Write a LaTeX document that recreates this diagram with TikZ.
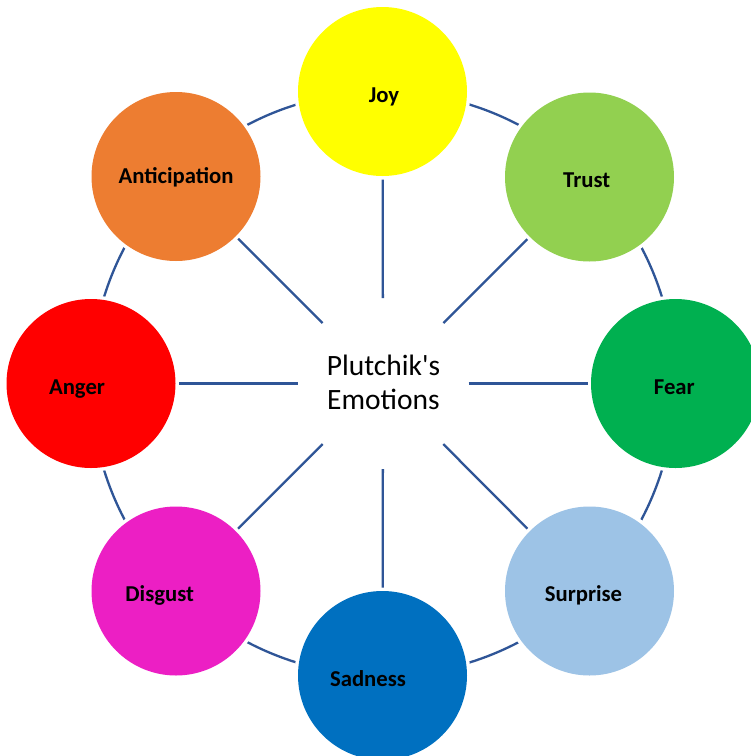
\documentclass[tikz,border=0pt]{standalone}
\usepackage{fontspec}
\setmainfont{Carlito}
\definecolor{ringc}{HTML}{2F5597}
\definecolor{joyc}{HTML}{FFFF00}
\definecolor{trustc}{HTML}{92D050}
\definecolor{fearc}{HTML}{00B050}
\definecolor{surprisec}{HTML}{9DC3E6}
\definecolor{sadnessc}{HTML}{0070C0}
\definecolor{disgustc}{HTML}{EC1FC4}
\definecolor{angerc}{HTML}{FF0000}
\definecolor{anticipc}{HTML}{ED7D31}
\newcommand{\straightquote}{\XeTeXglyph\XeTeXcharglyph"27\relax}
\begin{document}
\begin{tikzpicture}[x=1pt,y=-1pt,
  emo/.style={circle, minimum size=169pt, inner sep=0pt, outer sep=3.5pt,
    preaction={draw=white, line width=7pt}},
  hubnode/.style={circle, minimum size=171pt, inner sep=0pt, outer sep=0pt},
  spoke/.style={draw=ringc, line width=2.3pt},
  lab/.style={anchor=base, font=\bfseries\fontsize{22.7}{27}\selectfont, text=black},
  ttl/.style={anchor=base, font=\fontsize{29.5}{35}\selectfont, text=black}]
\clip (0,0) rectangle (751,756);
\fill[white] (0,0) rectangle (751,756);
% hub
\node[hubnode] (hub) at (383,383.5) {};
% ring
\draw[ringc, line width=2.3pt] (hub.center) circle[radius=292pt];
% emotion circles
\node[emo, fill=joyc]      (joy)      at (382.5,91.5) {};
\node[emo, fill=trustc]    (trust)    at (589.5,177) {};
\node[emo, fill=fearc]     (fear)     at (675.5,383.5) {};
\node[emo, fill=surprisec] (surprise) at (589.5,591) {};
\node[emo, fill=sadnessc]  (sadness)  at (382.5,675.5) {};
\node[emo, fill=disgustc]  (disgust)  at (176,591) {};
\node[emo, fill=angerc]    (anger)    at (91,383.5) {};
\node[emo, fill=anticipc]  (anticip)  at (176,176.5) {};
% spokes
\foreach \n in {joy,trust,fear,surprise,sadness,disgust,anger,anticip}
  \draw[spoke] (hub) -- (\n);
% labels
\node[lab] (joyT)      at (384,102)     {Joy};
\node[lab] (trustT)    at (586.7,187.7) {Trust};
\node[lab] (fearT)     at (674.3,394.7) {Fear};
\node[lab] (surpriseT) at (583.5,601)   {Surprise};
\node[lab] (sadnessT)  at (368,686)     {Sadness};
\node[lab] (disgustT)  at (159.7,601)   {Disgust};
\node[lab] (angerT)    at (77,394.3)    {Anger};
\node[lab] (anticipT)  at (176,183.3)   {Anticipation};
% title
\node[ttl] (title1) at (383.5,375)   {Plutchik\straightquote s};
\node[ttl] (title2) at (383.5,409.3) {Emotions};
\end{tikzpicture}
\end{document}
